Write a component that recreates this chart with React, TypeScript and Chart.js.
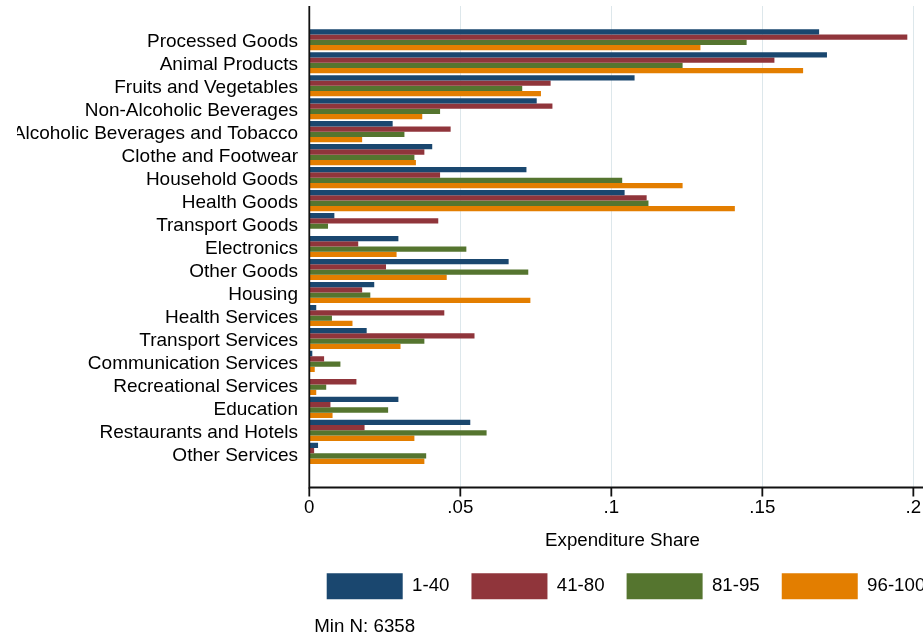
import React, { useEffect, useRef } from "react";
import { Chart, registerables } from "chart.js";

Chart.register(...registerables);

// Spending categories, top to bottom
const CATEGORIES = [
  "Processed Goods",
  "Animal Products",
  "Fruits and Vegetables",
  "Non-Alcoholic Beverages",
  "Alcoholic Beverages and Tobacco",
  "Clothe and Footwear",
  "Household Goods",
  "Health Goods",
  "Transport Goods",
  "Electronics",
  "Other Goods",
  "Housing",
  "Health Services",
  "Transport Services",
  "Communication Services",
  "Recreational Services",
  "Education",
  "Restaurants and Hotels",
  "Other Services",
];

// Expenditure shares by income percentile group
const SHARE_1_40 = [0.1688, 0.1714, 0.1077, 0.0753, 0.0276, 0.0407, 0.0719, 0.1044, 0.0083, 0.0295, 0.066, 0.0215, 0.0023, 0.019, 0.001, 0.0, 0.0295, 0.0533, 0.0029];
const SHARE_41_80 = [0.198, 0.154, 0.0799, 0.0805, 0.0468, 0.0381, 0.0433, 0.1117, 0.0427, 0.0162, 0.0254, 0.0175, 0.0447, 0.0547, 0.0049, 0.0156, 0.007, 0.0183, 0.0016];
const SHARE_81_95 = [0.1448, 0.1236, 0.0705, 0.0433, 0.0315, 0.0348, 0.1036, 0.1123, 0.0062, 0.052, 0.0725, 0.0202, 0.0075, 0.0381, 0.0103, 0.0056, 0.0261, 0.0587, 0.0387];
const SHARE_96_100 = [0.1295, 0.1635, 0.0767, 0.0374, 0.0175, 0.0353, 0.1236, 0.1409, 0.0, 0.0289, 0.0455, 0.0732, 0.0143, 0.0302, 0.0018, 0.0023, 0.0077, 0.0348, 0.0381];

const GROUP_LABELS = ["1-40", "41-80", "81-95", "96-100"];
const GROUP_COLORS = ["#1a476f", "#90353b", "#55752f", "#e37e00"];

const X_TICKS = [0, 0.05, 0.1, 0.15, 0.2];
const X_TICK_LABELS = ["0", ".05", ".1", ".15", ".2"];
const X_MAX = 0.3065;
// The plot region spans 0 .. PLOT_END; the axis title sits at its middle.
const PLOT_END = 0.2074;

const AXIS_TITLE = "Expenditure Share";
const NOTE = "Min N: 6358";

const FONT_FAMILY = '"Liberation Sans", Arial, Helvetica, sans-serif';
const FONT_SIZE = 18.7;
const CATEGORY_FONT_SIZE = 19;
const TEXT_COLOR = "#000";
const GRID_COLOR = "#dde7eb";
const AXIS_COLOR = "#111";

const CANVAS_W = 1218;
const CANVAS_H = 640;

// Plot frame: grid lines and axis lines reach a little beyond the bar area;
// the axis title and the sample-size note are written as canvas text.
const plotFrame = {
  id: "plotFrame",
  beforeDatasetsDraw(chart: any) {
    const { ctx, chartArea, scales } = chart;
    const top = chartArea.top - 22.3;
    const bottom = chartArea.bottom + 22.7;
    ctx.save();
    ctx.strokeStyle = GRID_COLOR;
    ctx.lineWidth = 1;
    for (const v of X_TICKS) {
      if (v === 0) continue;
      const px = Math.round(scales.x.getPixelForValue(v)) + 0.5;
      ctx.beginPath();
      ctx.moveTo(px, top);
      ctx.lineTo(px, bottom);
      ctx.stroke();
    }
    ctx.restore();
  },
  afterDatasetsDraw(chart: any) {
    const { ctx, chartArea, scales, width } = chart;
    const top = chartArea.top - 22.3;
    const bottom = chartArea.bottom + 22.7;
    const x0 = scales.x.getPixelForValue(0);
    ctx.save();
    ctx.strokeStyle = AXIS_COLOR;
    ctx.lineWidth = 1.8;
    ctx.beginPath();
    ctx.moveTo(x0, top);
    ctx.lineTo(x0, bottom);
    ctx.moveTo(x0 - 0.9, bottom);
    ctx.lineTo(width, bottom);
    ctx.stroke();
    for (const v of X_TICKS) {
      const px = scales.x.getPixelForValue(v);
      ctx.beginPath();
      ctx.moveTo(px, bottom);
      ctx.lineTo(px, bottom + 9);
      ctx.stroke();
    }
    ctx.restore();
  },
  afterDraw(chart: any) {
    const { ctx, chartArea, legend, scales } = chart;
    ctx.save();
    ctx.fillStyle = TEXT_COLOR;
    ctx.font = `${FONT_SIZE}px ${FONT_FAMILY}`;
    ctx.textBaseline = "middle";
    ctx.textAlign = "center";
    ctx.fillText(AXIS_TITLE, scales.x.getPixelForValue(PLOT_END / 2), scales.x.bottom - 10);
    ctx.textAlign = "left";
    ctx.fillText(NOTE, chartArea.left + 5, legend.bottom + 17.4);
    ctx.restore();
  },
};

export default function App() {
  const canvasRef = useRef<HTMLCanvasElement | null>(null);

  useEffect(() => {
    if (!canvasRef.current) return;
    const series = [SHARE_1_40, SHARE_41_80, SHARE_81_95, SHARE_96_100];
    const font = { family: FONT_FAMILY, size: FONT_SIZE };
    const chart = new Chart(canvasRef.current, {
      type: "bar",
      data: {
        labels: CATEGORIES,
        datasets: series.map((values, i) => ({
          label: GROUP_LABELS[i],
          data: values,
          backgroundColor: GROUP_COLORS[i],
          borderWidth: 0,
          barPercentage: 1,
          categoryPercentage: 0.92,
        })),
      },
      options: {
        indexAxis: "y",
        responsive: false,
        animation: false,
        layout: { padding: { top: 28.3, bottom: 30.76, left: 0, right: 0 } },
        scales: {
          x: {
            type: "linear",
            min: 0,
            max: X_MAX,
            grid: { display: false, drawTicks: false },
            border: { display: false },
            afterBuildTicks: (scale: any) => {
              scale.ticks = X_TICKS.map((value) => ({ value }));
            },
            ticks: {
              autoSkip: false,
              maxRotation: 0,
              padding: 32,
              color: TEXT_COLOR,
              font,
              callback: (_v: any, i: number) => X_TICK_LABELS[i],
            },
            title: { display: false },
          },
          y: {
            grid: { display: false, drawTicks: false },
            border: { display: false },
            ticks: {
              autoSkip: false,
              padding: 11.3,
              labelOffset: 2,
              color: TEXT_COLOR,
              font: { family: FONT_FAMILY, size: CATEGORY_FONT_SIZE },
            },
            afterFit: (scale: any) => {
              scale.width = 292.3;
            },
          },
        },
        plugins: {
          legend: {
            position: "bottom",
            align: "center",
            labels: {
              boxWidth: 76,
              boxHeight: 26,
              padding: 22,
              color: TEXT_COLOR,
              font,
            },
          },
          tooltip: { enabled: false },
        },
      },
      plugins: [plotFrame],
    } as any);
    return () => chart.destroy();
  }, []);

  return (
    <div
      style={{
        position: "fixed",
        left: 0,
        top: 0,
        width: 923,
        height: 634,
        overflow: "hidden",
        background: "#fff",
      }}
    >
      <canvas
        ref={canvasRef}
        width={CANVAS_W}
        height={CANVAS_H}
        style={{ position: "absolute", left: 17, top: 0, width: CANVAS_W, height: CANVAS_H }}
      />
    </div>
  );
}
